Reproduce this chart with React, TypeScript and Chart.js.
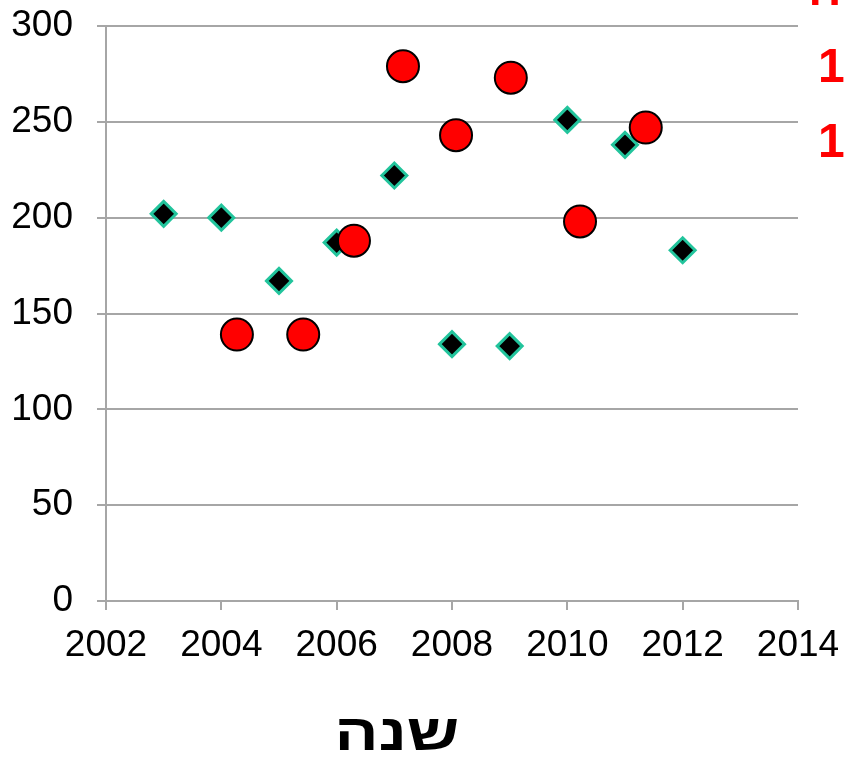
import React, { useEffect, useRef } from "react";
import { Chart, registerables } from "chart.js";

Chart.register(...registerables);

const diamondYears = [2003, 2004, 2005, 2006, 2007, 2008, 2009, 2010, 2011, 2012];
const diamondValues = [202, 200, 167, 187, 222, 134, 133, 251, 238, 183];

const circleYears = [2004.27, 2005.42, 2006.3, 2007.15, 2008.07, 2009.02, 2010.22, 2011.36];
const circleValues = [139, 139, 188, 279, 243, 273, 198, 247];

const xTitle = "שנה";
const sideLabels = ["ח", "1", "1"];

const FONT = "'Liberation Sans', Arial, sans-serif";

const overlayPlugin = {
  id: "overlayText",
  afterDraw(chart: any) {
    const { ctx, chartArea } = chart;
    ctx.save();
    ctx.fillStyle = "#000";
    ctx.font = `bold 51px ${FONT}`;
    ctx.textAlign = "center";
    ctx.textBaseline = "alphabetic";
    ctx.translate(chart.width / 2 - 25, 750);
    ctx.scale(1.28, 1);
    ctx.fillText(xTitle, 0, 0);
    ctx.restore();
    ctx.save();
    ctx.fillStyle = "#ff0000";
    ctx.font = `bold 48px ${FONT}`;
    ctx.textAlign = "left";
    ctx.fillText(sideLabels[0], chartArea.right + 10, 5);
    ctx.fillText(sideLabels[1], chartArea.right + 20, 82);
    ctx.fillText(sideLabels[2], chartArea.right + 20, 157);
    ctx.restore();
  },
};

export default function App() {
  const ref = useRef<HTMLCanvasElement>(null);
  useEffect(() => {
    if (!ref.current) return;
    const chart = new Chart(ref.current, {
      type: "scatter",
      data: {
        datasets: [
          {
            label: "circles",
            data: circleYears.map((x, i) => ({ x, y: circleValues[i] })),
            pointStyle: "circle",
            pointRadius: 16,
            pointBackgroundColor: "#ff0000",
            pointBorderColor: "#000000",
            pointBorderWidth: 2,
          },
          {
            label: "diamonds",
            data: diamondYears.map((x, i) => ({ x, y: diamondValues[i] })),
            pointStyle: "rectRot",
            pointRadius: 12.5,
            pointBackgroundColor: "#000000",
            pointBorderColor: "#22c49c",
            pointBorderWidth: 3,
          },
        ],
      },
      options: {
        responsive: false,
        animation: false,
        layout: { padding: { top: 26, right: 46, left: 0, bottom: 0 } },
        plugins: { legend: { display: false }, tooltip: { enabled: false } },
        scales: {
          x: {
            type: "linear",
            min: 2002,
            max: 2014,
            ticks: {
              stepSize: 2,
              color: "#000",
              font: { family: FONT, size: 37 },
              padding: 14,
              maxRotation: 0,
              autoSkip: false,
              callback: (v: any) => String(v),
            },
            grid: {
              drawOnChartArea: false,
              drawTicks: true,
              tickLength: 9,
              color: "#a6a6a6",
              lineWidth: 2,
            },
            border: { color: "#a6a6a6", width: 2 },
            afterFit: (s: any) => {
              s.height = 157;
              s.paddingLeft = 0;
              s.paddingRight = 0;
            },
          },
          y: {
            min: 0,
            max: 300,
            ticks: {
              stepSize: 50,
              color: "#000",
              font: { family: FONT, size: 37 },
              padding: 24,
            },
            grid: {
              color: "#a6a6a6",
              lineWidth: 2,
              tickLength: 9,
            },
            border: { color: "#a6a6a6", width: 2 },
            afterFit: (s: any) => {
              s.width = 106;
              s.paddingTop = 0;
              s.paddingBottom = 0;
            },
          },
        },
      },
      plugins: [overlayPlugin],
    });
    return () => chart.destroy();
  }, []);
  return (
    <div style={{ position: "fixed", left: 0, top: 0, width: 844, height: 758, background: "#fff" }}>
      <canvas ref={ref} width={844} height={758} />
    </div>
  );
}
